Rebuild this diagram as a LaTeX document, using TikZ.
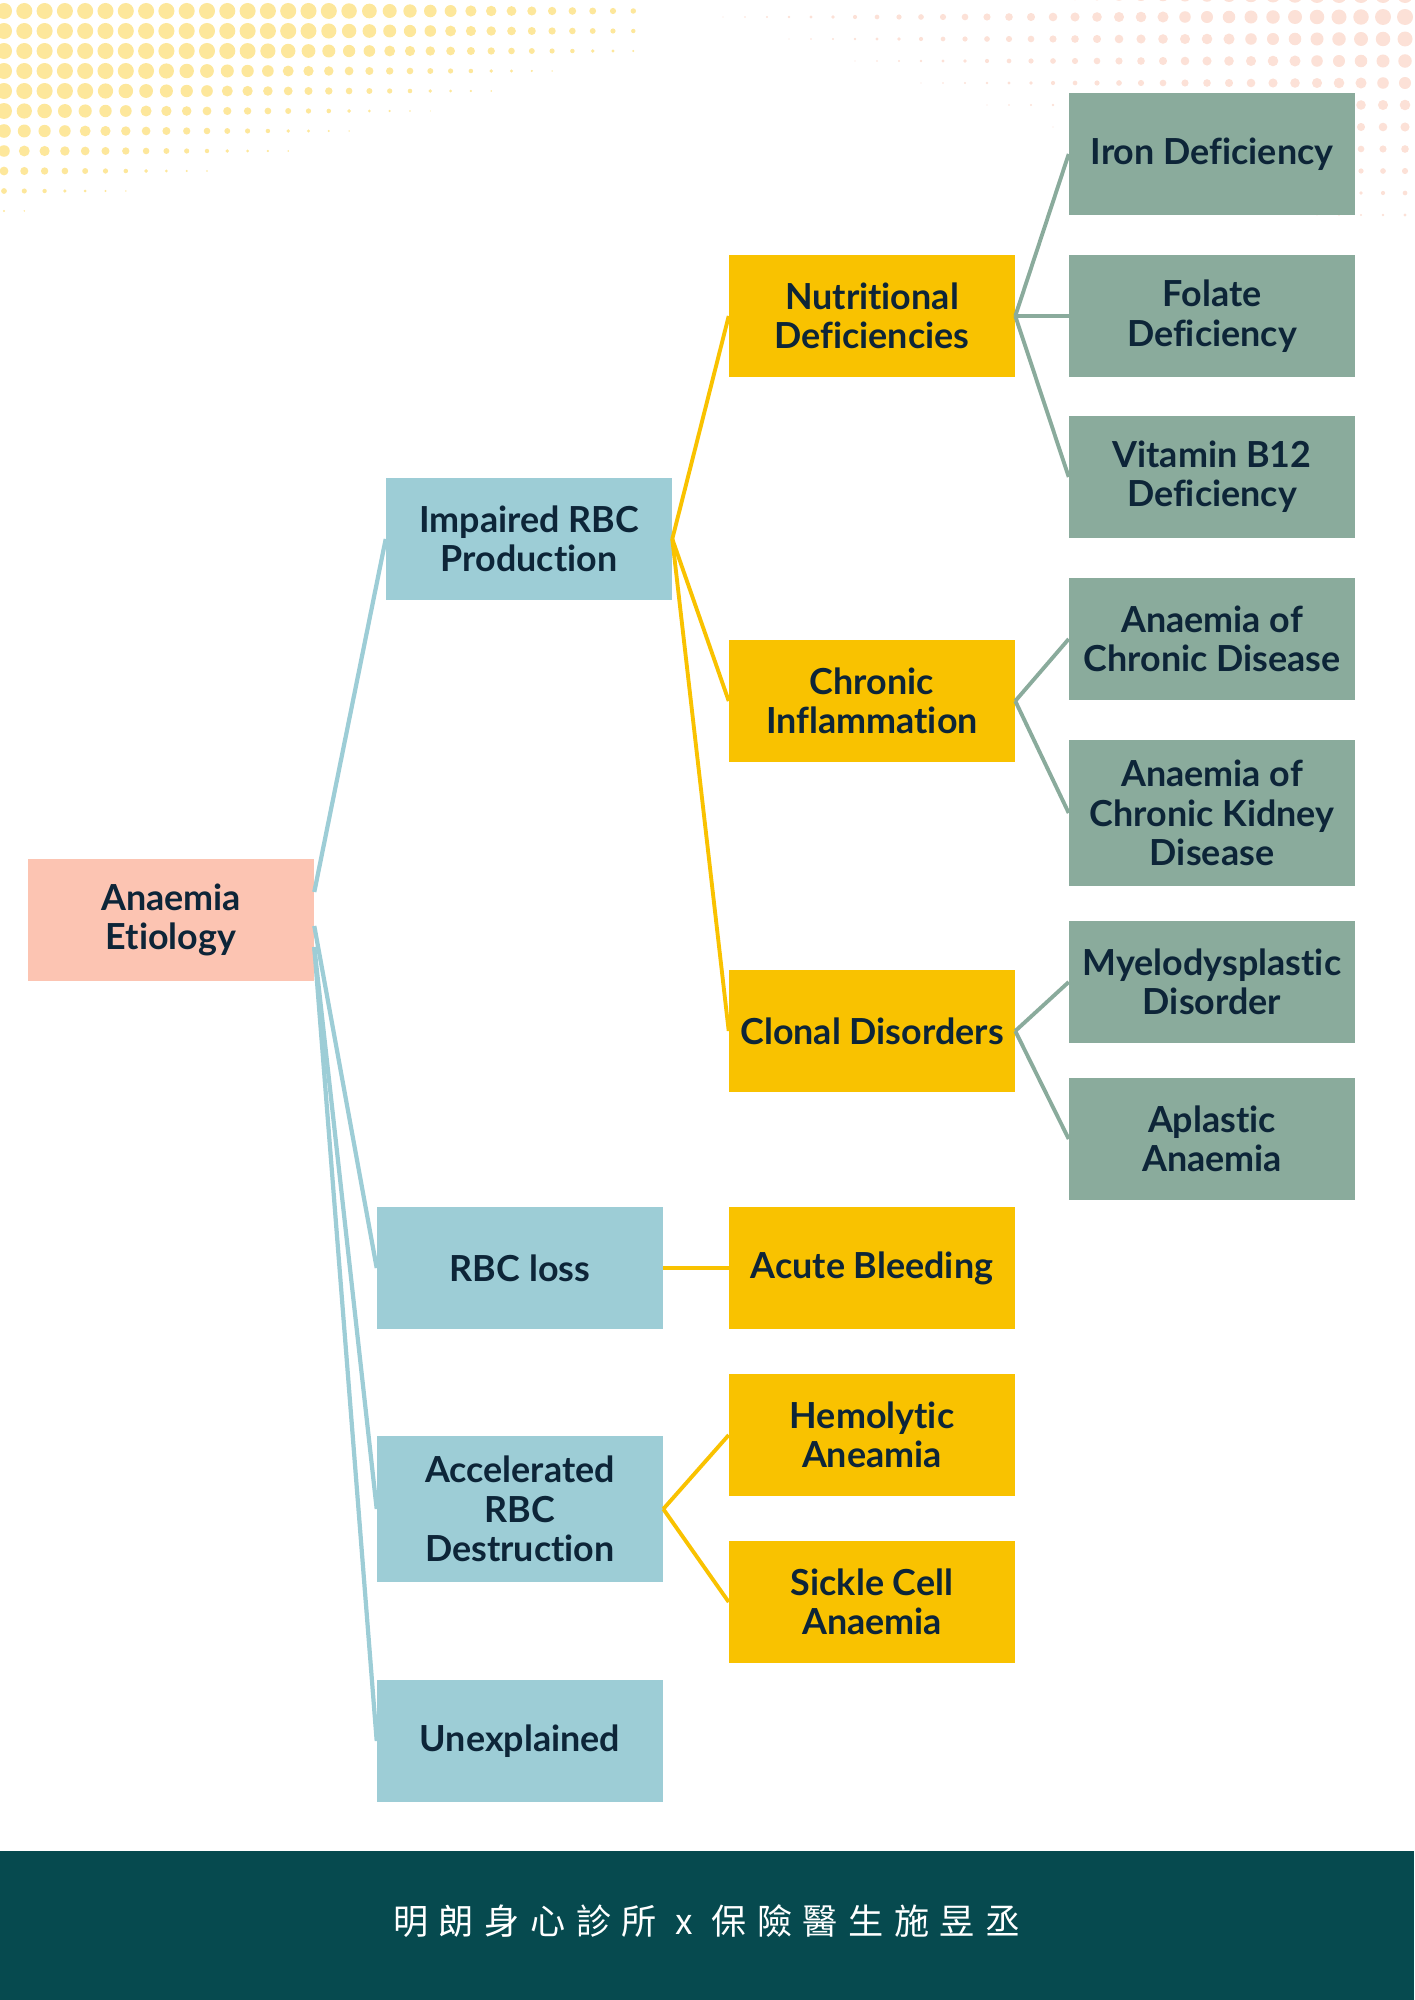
\documentclass[tikz,border=0pt]{standalone}
\usepackage{fontspec}
\setmainfont{Lato}[Ligatures=NoCommon]
\newfontfamily\cjkfont[LetterSpace=30]{Noto Sans CJK TC}
\usetikzlibrary{positioning}

\definecolor{rootpeach}{HTML}{FCC4B2}
\definecolor{causeblue}{HTML}{9DCDD6}
\definecolor{subyellow}{HTML}{F9C200}
\definecolor{leafgreen}{HTML}{8AAB9C}
\definecolor{textnavy}{HTML}{0D2538}
\definecolor{footteal}{HTML}{064A4F}
\definecolor{dotyellow}{HTML}{FDE79B}
\definecolor{dotpink}{HTML}{FCE1D7}

\begin{document}
\begin{tikzpicture}[x=0.01cm, y=-0.01cm,
    box/.style={minimum width=2.85cm, minimum height=1.21cm, align=center, inner sep=2pt,
        font=\fontsize{10.2}{11.2}\selectfont\bfseries, text=textnavy},
    root/.style={box, fill=rootpeach},
    cause/.style={box, fill=causeblue},
    sub/.style={box, fill=subyellow},
    leaf/.style={box, fill=leafgreen},
    blueline/.style={draw=causeblue, line width=1.2pt},
    yelline/.style={draw=subyellow, line width=1.1pt},
    greenline/.style={draw=leafgreen, line width=1.1pt}
]
\useasboundingbox (0,0) rectangle (1414,2000);

% dotted corners
\foreach \yy/\xe in {11/790,31/760,51/700,71/600,91/540,111/460,131/395,151/335,171/255,191/170,211/70} {
  \foreach \i in {0,...,31} {
    \pgfmathsetmacro\xx{4+20.3*\i}
    \pgfmathsetmacro\dd{min(16,0.035*(\xe-\xx))}
    \pgfmathsetmacro\rr{\dd*0.1423}
    \ifdim\dd pt>1pt \fill[dotyellow] (\xx,\yy) circle[radius=\rr pt]; \fi
  }
}
\foreach \j in {0,...,10} {
  \foreach \i in {0,...,31} {
    \pgfmathsetmacro\yy{-5+22*\j}
    \pgfmathsetmacro\xx{1405-22*\i}
    \pgfmathsetmacro\dd{min(16,16*(800-(1414-\xx)-3*\yy)/720)}
    \pgfmathsetmacro\rr{\dd*0.1423}
    \ifdim\dd pt>1pt \fill[dotpink] (\xx,\yy) circle[radius=\rr pt]; \fi
  }
}

% nodes
\node[root] (etio) at (171,920) {Anaemia\\Etiology};

\node[cause] (impaired) at (529,539) {Impaired RBC\\Production};
\node[cause] (loss) at (520,1268) {RBC loss};
\node[cause, minimum height=1.46cm] (destr) at (520,1509) {Accelerated\\RBC\\Destruction};
\node[cause] (unexpl) at (520,1741) {Unexplained};

\node[sub] (nutri) at (872,316) {Nutritional\\Deficiencies};
\node[sub] (inflam) at (872,701) {Chronic\\Inflammation};
\node[sub] (clonal) at (872,1031) {Clonal Disorders};
\node[sub] (bleed) at (872,1268) {Acute Bleeding};
\node[sub] (hemo) at (872,1435) {Hemolytic\\Aneamia};
\node[sub] (sickle) at (872,1602) {Sickle Cell\\Anaemia};

\node[leaf] (iron) at (1212,154) {Iron Deficiency};
\node[leaf] (folate) at (1212,316) {Folate\\Deficiency};
\node[leaf] (vitb) at (1212,477) {Vitamin B12\\Deficiency};
\node[leaf] (acd) at (1212,639) {Anaemia of\\Chronic Disease};
\node[leaf, minimum height=1.45cm] (ackd) at (1212,813) {Anaemia of\\Chronic Kidney\\Disease};
\node[leaf] (mds) at (1212,982) {Myelodysplastic\\Disorder};
\node[leaf] (aplastic) at (1212,1139) {Aplastic\\Anaemia};

% connectors
\draw[blueline] ([yshift=0.28cm]etio.east) -- (impaired.west);
\draw[blueline] ([yshift=-0.06cm]etio.east) -- (loss.west);
\draw[blueline] ([yshift=-0.27cm]etio.east) -- (destr.west);
\draw[blueline] ([yshift=-0.27cm]etio.east) -- (unexpl.west);

\draw[yelline] (impaired.east) -- (nutri.west);
\draw[yelline] (impaired.east) -- (inflam.west);
\draw[yelline] (impaired.east) -- (clonal.west);
\draw[yelline] (loss.east) -- (bleed.west);
\draw[yelline] (destr.east) -- (hemo.west);
\draw[yelline] (destr.east) -- (sickle.west);

\draw[greenline] (nutri.east) -- (iron.west);
\draw[greenline] (nutri.east) -- (folate.west);
\draw[greenline] (nutri.east) -- (vitb.west);
\draw[greenline] (inflam.east) -- (acd.west);
\draw[greenline] (inflam.east) -- (ackd.west);
\draw[greenline] (clonal.east) -- (mds.west);
\draw[greenline] (clonal.east) -- (aplastic.west);

% footer
\fill[footteal] (0,1851) rectangle (1414,2000);
\node[text=white, font=\cjkfont\fontsize{10}{12}\selectfont] (credit) at (707,1921) {明朗身心診所 x 保險醫生施昱丞};
\end{tikzpicture}
\end{document}
